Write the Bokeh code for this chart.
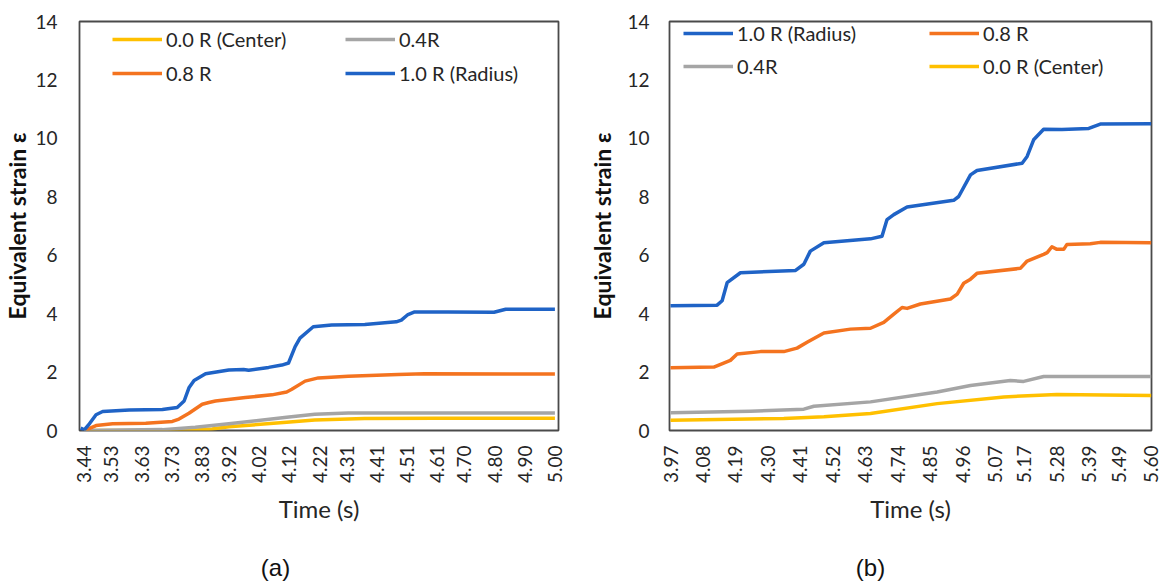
import math
from bokeh.plotting import figure
from bokeh.layouts import row, column
from bokeh.models import Range1d, FixedTicker, Legend, LegendItem
from bokeh.core.properties import value
from bokeh.embed import file_html
from bokeh.resources import INLINE

# ---------------- Panel (a) data ----------------
a_tick_labels = ["3.44", "3.53", "3.63", "3.73", "3.83", "3.92", "4.02", "4.12", "4.22",
                 "4.31", "4.41", "4.51", "4.61", "4.70", "4.80", "4.90", "5.00"]

a_center_t = [3.44, 3.78, 3.864, 3.919, 4.111, 4.204, 4.369, 4.60, 5.00]
a_center_v = [0.0, 0.0, 0.05, 0.13, 0.28, 0.36, 0.41, 0.42, 0.42]

a_04_t = [3.44, 3.699, 3.808, 3.919, 4.111, 4.204, 4.315, 4.60, 5.00]
a_04_v = [0.0, 0.03, 0.11, 0.23, 0.45, 0.56, 0.60, 0.60, 0.60]

a_08_t = [3.446, 3.479, 3.534, 3.644, 3.732, 3.754, 3.787, 3.831, 3.853, 3.875, 3.974,
          4.062, 4.111, 4.128, 4.172, 4.216, 4.315, 4.480, 4.568, 5.00]
a_08_v = [0.02, 0.17, 0.23, 0.25, 0.31, 0.39, 0.59, 0.90, 0.96, 1.01, 1.13,
          1.22, 1.32, 1.41, 1.69, 1.80, 1.86, 1.92, 1.94, 1.93]

a_10_t = [3.428, 3.44, 3.457, 3.479, 3.501, 3.589, 3.699, 3.748, 3.771, 3.787, 3.804,
          3.842, 3.919, 3.968, 3.985, 4.051, 4.095, 4.117, 4.139, 4.155, 4.199, 4.260,
          4.370, 4.474, 4.491, 4.513, 4.535, 4.645, 4.798, 4.837, 5.00]
a_10_v = [0.08, 0.02, 0.23, 0.54, 0.65, 0.70, 0.72, 0.79, 1.01, 1.46, 1.71,
          1.94, 2.07, 2.09, 2.06, 2.16, 2.24, 2.31, 2.87, 3.16, 3.55, 3.61,
          3.63, 3.72, 3.78, 3.97, 4.06, 4.06, 4.05, 4.15, 4.15]

# ---------------- Panel (b) data ----------------
b_tick_labels = ["3.97", "4.08", "4.19", "4.30", "4.41", "4.52", "4.63", "4.74", "4.85",
                 "4.96", "5.07", "5.17", "5.28", "5.39", "5.49", "5.60"]

b_center_t = [3.97, 4.354, 4.490, 4.648, 4.874, 5.100, 5.280, 5.60]
b_center_v = [0.35, 0.41, 0.47, 0.58, 0.92, 1.15, 1.23, 1.20]

b_04_t = [3.97, 4.241, 4.422, 4.456, 4.648, 4.874, 4.987, 5.122, 5.167, 5.235, 5.60]
b_04_v = [0.61, 0.66, 0.73, 0.83, 0.98, 1.32, 1.54, 1.71, 1.68, 1.85, 1.85]

b_08_t = [3.97, 4.117, 4.173, 4.196, 4.275, 4.354, 4.399, 4.433, 4.490, 4.580, 4.648,
          4.693, 4.727, 4.755, 4.772, 4.817, 4.919, 4.942, 4.964, 4.987, 5.009, 5.156,
          5.179, 5.235, 5.247, 5.263, 5.280, 5.303, 5.314, 5.393, 5.427, 5.60]
b_08_v = [2.15, 2.17, 2.40, 2.62, 2.70, 2.70, 2.82, 3.02, 3.34, 3.47, 3.50,
          3.70, 3.98, 4.21, 4.18, 4.33, 4.50, 4.67, 5.04, 5.18, 5.38, 5.55,
          5.80, 6.03, 6.09, 6.29, 6.20, 6.20, 6.37, 6.39, 6.44, 6.43]

b_10_t = [3.97, 4.128, 4.145, 4.162, 4.207, 4.394, 4.422, 4.444, 4.490, 4.648, 4.687,
          4.704, 4.727, 4.772, 4.930, 4.947, 4.987, 5.009, 5.162, 5.179, 5.201, 5.235,
          5.297, 5.388, 5.427, 5.60]
b_10_v = [4.27, 4.29, 4.44, 5.06, 5.40, 5.48, 5.69, 6.14, 6.43, 6.56, 6.65,
          7.22, 7.39, 7.65, 7.88, 8.01, 8.75, 8.90, 9.15, 9.38, 9.95, 10.31,
          10.30, 10.34, 10.49, 10.50]

y_ticks = [0, 2, 4, 6, 8, 10, 12, 14]
captions = ["(a)", "(b)"]

C_CENTER = "#FFC000"
C_04 = "#A5A5A5"
C_08 = "#F4731F"
C_10 = "#1F63C6"

FONT = "Lato"
TXT = "#262626"
LW = 3.5


def make_panel(width, height, b_left, b_right, b_top, b_bottom, xr, tick_labels,
               series, legend_spec, tick_standoff, ylabel_standoff):
    p = figure(width=width, height=height, output_backend="svg", toolbar_location=None,
               x_range=Range1d(*xr), y_range=Range1d(0, 14),
               min_border_left=b_left, min_border_right=b_right,
               min_border_top=b_top, min_border_bottom=b_bottom)
    p.xgrid.visible = False
    p.ygrid.visible = False
    p.outline_line_color = "#4a4a4a"
    p.outline_line_width = 1.8
    p.background_fill_color = "white"
    p.border_fill_color = "white"

    renderers = {}
    for name, t, v, col in series:
        renderers[name] = p.line(t, v, line_color=col, line_width=LW, line_join="round")

    # axes
    tick_vals = [float(s) for s in tick_labels]
    p.xaxis.ticker = FixedTicker(ticks=tick_vals)
    p.xaxis.major_label_overrides = {tv: s for tv, s in zip(tick_vals, tick_labels)}
    p.xaxis.major_label_orientation = math.pi / 2
    p.yaxis.ticker = FixedTicker(ticks=y_ticks)
    for ax in (p.xaxis, p.yaxis):
        ax.axis_line_color = None
        ax.major_tick_line_color = None
        ax.minor_tick_line_color = None
        ax.major_tick_out = 0
        ax.major_tick_in = 0
        ax.major_label_text_font = FONT
        ax.major_label_text_font_size = "19px"
        ax.major_label_text_color = TXT
    p.xaxis.major_label_standoff = 15
    p.yaxis.major_label_standoff = tick_standoff
    p.xaxis.axis_label = "Time (s)"
    p.xaxis.axis_label_text_font = FONT
    p.xaxis.axis_label_text_font_size = "24px"
    p.xaxis.axis_label_text_font_style = "normal"
    p.xaxis.axis_label_text_color = TXT
    p.xaxis.axis_label_standoff = 8
    p.yaxis.axis_label = "Equivalent strain ε"
    p.yaxis.axis_label_text_font = FONT
    p.yaxis.axis_label_text_font_size = "23px"
    p.yaxis.axis_label_text_font_style = "bold"
    p.yaxis.axis_label_text_color = "#111111"
    p.yaxis.axis_label_standoff = ylabel_standoff

    # legends, one per item placed in a 2x2 grid
    for name, lx, ly in legend_spec:
        lg = Legend(items=[LegendItem(label=name, renderers=[renderers[name]])],
                    location=(lx, ly), padding=0, margin=0, spacing=0,
                    glyph_width=50, glyph_height=24, label_height=24,
                    label_standoff=4,
                    label_text_font=FONT, label_text_font_size="20px",
                    label_text_color=TXT,
                    border_line_alpha=0, background_fill_alpha=0)
        p.add_layout(lg, "center")
    return p


pa = make_panel(
    585, 540, 77, 27, 16, 110, (3.4242, 5.0119), a_tick_labels,
    [("0.0 R (Center)", a_center_t, a_center_v, C_CENTER),
     ("0.4R", a_04_t, a_04_v, C_04),
     ("0.8 R", a_08_t, a_08_v, C_08),
     ("1.0 R (Radius)", a_10_t, a_10_v, C_10)],
    [("0.0 R (Center)", 33, 379), ("0.4R", 266, 379),
     ("0.8 R", 33, 345), ("1.0 R (Radius)", 266, 345)],
    22, 1)

pb = make_panel(
    576, 540, 84, 10, 21, 108, (3.9666, 5.6006), b_tick_labels,
    [("1.0 R (Radius)", b_10_t, b_10_v, C_10),
     ("0.8 R", b_08_t, b_08_v, C_08),
     ("0.4R", b_04_t, b_04_v, C_04),
     ("0.0 R (Center)", b_center_t, b_center_v, C_CENTER)],
    [("1.0 R (Radius)", 14, 385), ("0.8 R", 260, 385),
     ("0.4R", 14, 352), ("0.0 R (Center)", 260, 352)],
    20, 8)

# caption strip below the two panels
cap = figure(width=1161, height=45, output_backend="svg", toolbar_location=None,
             x_range=Range1d(0, 1161), y_range=Range1d(0, 45),
             min_border_left=0, min_border_right=0, min_border_top=0, min_border_bottom=0)
cap.axis.visible = False
cap.grid.visible = False
cap.outline_line_color = None
cap.text(x=[275, 870], y=[18, 18], text=captions,
         text_font=value("Liberation Sans"), text_font_size="24px",
         text_align="center", text_baseline="middle", text_color="#111111")

layout = column(row(pa, pb), cap)
open("out.html", "w").write(file_html(layout, INLINE))
